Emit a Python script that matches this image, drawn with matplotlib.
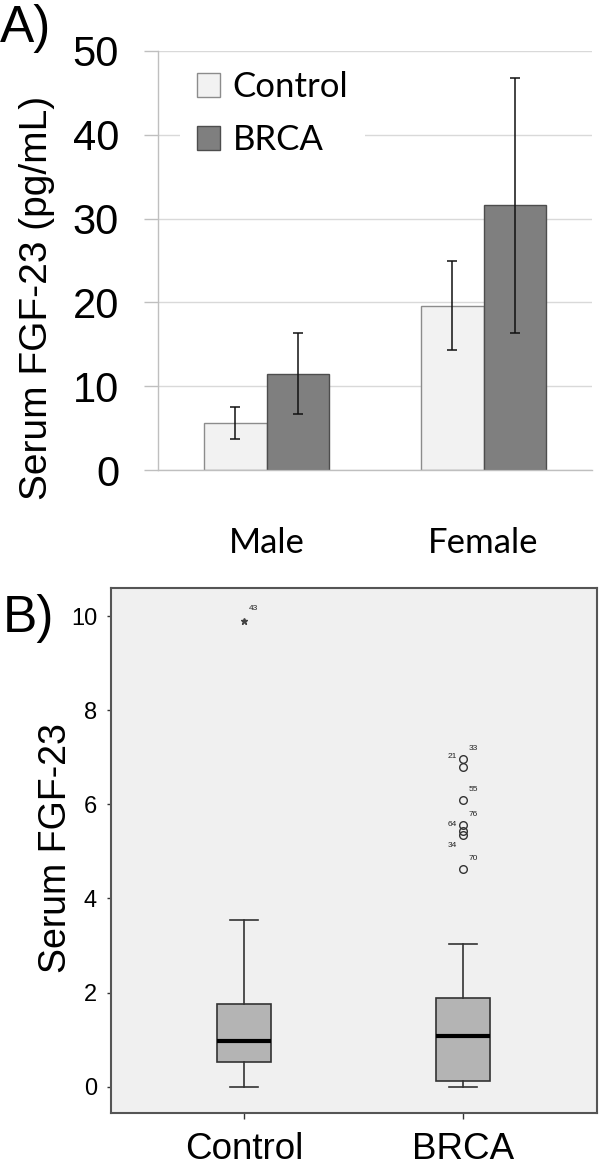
import matplotlib
matplotlib.use("Agg")
import matplotlib.pyplot as plt
import numpy as np

# ---------------- data ----------------
# Panel A
sexes = ["Male", "Female"]
groups = ["Control", "BRCA"]
control_means = [5.6, 19.6]
control_err = [1.9, 5.3]
brca_means = [11.5, 31.6]
brca_err = [4.85, 15.2]
a_yticks = [0, 10, 20, 30, 40, 50]

# Panel B (box plot statistics)
box_labels = ["Control", "BRCA"]
box_whislo = [0.0, 0.0]
box_q1 = [0.53, 0.13]
box_med = [0.97, 1.07]
box_q3 = [1.75, 1.89]
box_whishi = [3.55, 3.04]
control_extremes = [9.9]
control_extreme_ids = ["43"]
brca_outliers = [6.97, 6.79, 6.10, 5.56, 5.44, 5.34, 4.62]
brca_outlier_ids = ["33", "21", "55", "76", "64", "34", "70"]
b_yticks = [0, 2, 4, 6, 8, 10]

# ---------------- figure ----------------
W, H = 603, 1174
fig = plt.figure(figsize=(W / 100, H / 100), dpi=100)
fig.patch.set_facecolor("white")

def fx(px):
    return px / W

def fy(py):
    return 1 - py / H

ARIAL = ["Liberation Sans", "DejaVu Sans"]
CAL = ["Lato", "DejaVu Sans"]

# ---------------- Panel A ----------------
axA = fig.add_axes([fx(158), fy(470), fx(592) - fx(158), fy(51) - fy(470)])
x = np.arange(len(sexes))
w = 0.286
axA.set_axisbelow(True)
b1 = axA.bar(x - w / 2, control_means, w, color="#f2f2f2", edgecolor="#8c8c8c",
             linewidth=1.0, label=groups[0], zorder=2)
b2 = axA.bar(x + w / 2, brca_means, w, color="#7f7f7f", edgecolor="#4d4d4d",
             linewidth=1.0, label=groups[1], zorder=2)
axA.errorbar(x - w / 2, control_means, yerr=control_err, fmt="none", ecolor="#111111",
             elinewidth=1.1, capsize=3.5, capthick=1.1, zorder=3)
axA.errorbar(x + w / 2, brca_means, yerr=brca_err, fmt="none", ecolor="#111111",
             elinewidth=1.1, capsize=3.5, capthick=1.1, zorder=3)
axA.set_xlim(-0.5, 1.5)
axA.set_ylim(0, 50)
axA.set_yticks(a_yticks)
axA.set_yticklabels([str(v) for v in a_yticks], fontfamily=ARIAL, fontsize=30)
axA.yaxis.grid(True, color="#d9d9d9", linewidth=1.0)
axA.tick_params(axis="y", length=10, width=1.0, color="#bfbfbf", pad=18)
axA.set_xticks(x)
axA.set_xticklabels(sexes, fontfamily=CAL, fontsize=25)
axA.tick_params(axis="x", length=0, pad=41)
for s in ["top", "right"]:
    axA.spines[s].set_visible(False)
axA.spines["left"].set_color("#bfbfbf")
axA.spines["bottom"].set_color("#bfbfbf")
axA.spines["left"].set_linewidth(1.0)
axA.spines["bottom"].set_linewidth(1.0)
leg = axA.legend(handles=[b1, b2], loc="upper left",
                 bbox_to_anchor=((180 - 158) / 434, (470 - 54) / 419),
                 prop={"family": CAL, "size": 25}, frameon=True, fancybox=False,
                 facecolor="white", edgecolor="none", framealpha=1.0,
                 handlelength=0.66, handleheight=0.66, handletextpad=0.35,
                 labelspacing=0.6, borderpad=0.5, borderaxespad=0)
leg.set_zorder(1.5)
fig.text(fx(47), fy(298), "Serum FGF-23 (pg/mL)", rotation=90, rotation_mode="anchor",
         ha="center", va="baseline", fontfamily=ARIAL, fontsize=28)
fig.text(fx(0), fy(42), "A)", ha="left", va="baseline", fontfamily=ARIAL, fontsize=37)

# ---------------- Panel B ----------------
axB = fig.add_axes([fx(111), fy(1113), fx(597) - fx(111), fy(588) - fy(1113)])
axB.set_facecolor("#f0f0f0")
stats = []
for i in range(len(box_labels)):
    stats.append(dict(label=box_labels[i], whislo=box_whislo[i], q1=box_q1[i],
                      med=box_med[i], q3=box_q3[i], whishi=box_whishi[i], fliers=[]))
pos = [1, 2]
axB.bxp(stats, positions=pos, widths=0.247, showfliers=False, patch_artist=True,
        boxprops=dict(facecolor="#b4b4b4", edgecolor="#333333", linewidth=1.2),
        medianprops=dict(color="black", linewidth=3.0),
        whiskerprops=dict(color="#333333", linewidth=1.2),
        capprops=dict(color="#333333", linewidth=1.2), capwidths=0.125)
axB.plot([pos[0]] * len(control_extremes), control_extremes, linestyle="none",
         marker="*", markersize=5, color="#444444")
for v, lab in zip(control_extremes, control_extreme_ids):
    axB.annotate(lab, (pos[0], v), xytext=(5, 9), textcoords="offset pixels",
                 fontsize=6, fontfamily=ARIAL, color="#222222", ha="left", va="bottom")
axB.plot([pos[1]] * len(brca_outliers), brca_outliers, linestyle="none", marker="o",
         markersize=5.5, markerfacecolor="none", markeredgecolor="#333333",
         markeredgewidth=1.0)
label_offsets = [(6, 7), (-6, 7), (6, 7), (6, 7), (-6, 3), (-6, -14), (6, 7)]
for v, lab, (dx, dy) in zip(brca_outliers, brca_outlier_ids, label_offsets):
    axB.annotate(lab, (pos[1], v), xytext=(dx, dy), textcoords="offset pixels",
                 fontsize=6, fontfamily=ARIAL, color="#222222",
                 ha="left" if dx > 0 else "right", va="bottom")
axB.set_xlim(0.393, 2.612)
axB.set_ylim(-0.56, 10.6)
axB.set_yticks(b_yticks)
axB.set_yticklabels([str(v) for v in b_yticks], fontfamily=ARIAL, fontsize=17)
axB.set_xticks(pos)
axB.set_xticklabels(box_labels, fontfamily=ARIAL, fontsize=26.5)
axB.tick_params(axis="y", length=3, width=1.0, color="#333333", pad=7)
axB.tick_params(axis="x", length=4, width=1.0, color="#333333", pad=10)
for s in axB.spines.values():
    s.set_color("#555555")
    s.set_linewidth(1.5)
fig.text(fx(66), fy(848), "Serum FGF-23", rotation=90, rotation_mode="anchor",
         ha="center", va="baseline", fontfamily=ARIAL, fontsize=27)
fig.text(fx(3), fy(632), "B)", ha="left", va="baseline", fontfamily=ARIAL, fontsize=37)

fig.savefig("out.png", dpi=100, facecolor="white")
